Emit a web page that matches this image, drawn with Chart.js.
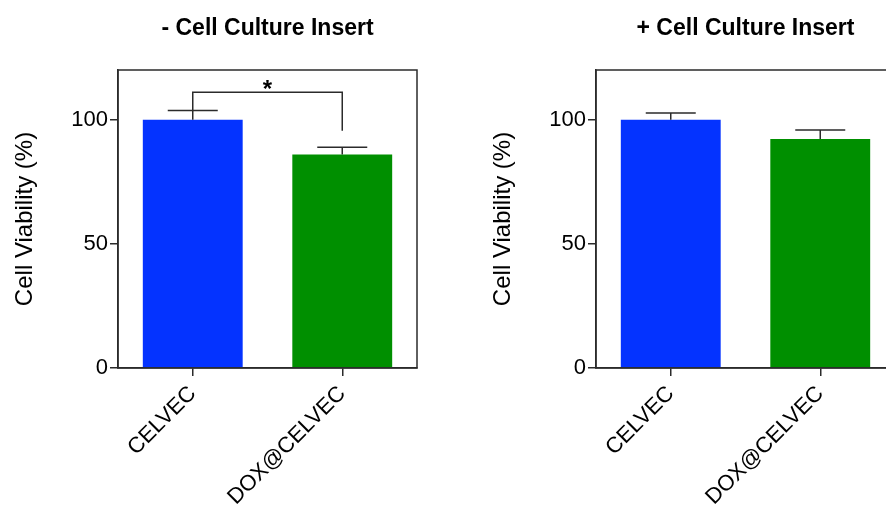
<!DOCTYPE html>
<html>
<head>
<meta charset="utf-8">
<script src="https://cdn.jsdelivr.net/npm/chart.js@4"></script>
<style>
    body { margin: 0; background: #fff; }
    #wrap { position: relative; width: 886px; height: 506px; overflow: hidden; }
    #wrap canvas { position: absolute; top: 0; }
</style>
</head>
<body>
<div id="wrap">
    <canvas id="leftChart" width="450" height="506" style="left:0"></canvas>
    <canvas id="rightChart" width="450" height="506" style="left:478px"></canvas>
</div>
<script>
// ================ data ================
const categories = ['CELVEC', 'DOX@CELVEC'];
const barColors = ['#0433FF', '#008F00'];
const yTicks = [0, 50, 100];

// - cell culture insert
const noInsertMeans = [100, 86.0];
const noInsertErr = [3.7, 2.9];

// + cell culture insert
const withInsertMeans = [100, 92.2];
const withInsertErr = [2.7, 3.6];

// significance bracket (left panel only): level, drop ends, label
const bracketLevel = 111;
const bracketEnds = [103.7, 95.5];
const bracketLabel = '*';

const FONT = 'Liberation Sans, Arial, Helvetica, sans-serif';
const INK = '#2b2b2b';

// ================ plugins ================
const errorBars = {
    id: 'errorBars',
    afterDatasetsDraw(chart, args, opts) {
        const ctx = chart.ctx;
        const y = chart.scales.y;
        const meta = chart.getDatasetMeta(0);
        const errs = opts.errors || [];
        ctx.save();
        ctx.strokeStyle = INK;
        ctx.lineWidth = 1.5;
        meta.data.forEach((bar, i) => {
            const top = y.getPixelForValue(chart.data.datasets[0].data[i] + errs[i]);
            ctx.beginPath();
            ctx.moveTo(bar.x, bar.y);
            ctx.lineTo(bar.x, top);
            ctx.moveTo(bar.x - 25, top);
            ctx.lineTo(bar.x + 25, top);
            ctx.stroke();
        });

        // significance bracket
        if (opts.bracket) {
            const b = opts.bracket;
            const x0 = meta.data[0].x, x1 = meta.data[1].x;
            const yl = y.getPixelForValue(b.level);
            ctx.beginPath();
            ctx.moveTo(x0, y.getPixelForValue(b.ends[0]));
            ctx.lineTo(x0, yl);
            ctx.lineTo(x1, yl);
            ctx.lineTo(x1, y.getPixelForValue(b.ends[1]));
            ctx.stroke();
            ctx.fillStyle = '#000';
            ctx.font = 'bold 24px ' + FONT;
            ctx.textAlign = 'center';
            ctx.textBaseline = 'alphabetic';
            ctx.fillText(b.label, (x0 + x1) / 2, yl + 5);
        }
        ctx.restore();
    }
};

const frameBox = {
    id: 'frameBox',
    afterDraw(chart) {
        const {ctx, chartArea: a} = chart;
        ctx.save();
        ctx.strokeStyle = INK;
        ctx.lineWidth = 1.5;
        ctx.strokeRect(a.left, a.top, a.right - a.left, a.bottom - a.top);
        ctx.restore();
    }
};

function makeChart(id, title, means, errs, bracket) {
    const ctx = document.getElementById(id).getContext('2d');
    return new Chart(ctx, {
        type: 'bar',
        data: {
            labels: categories,
            datasets: [{
                data: means,
                backgroundColor: barColors,
                borderWidth: 0,
                categoryPercentage: 1,
                barPercentage: 0.668
            }]
        },
        plugins: [errorBars, frameBox],
        options: {
            responsive: false,
            animation: false,
            layout: { padding: { left: 0, right: 33, top: 0, bottom: 0 } },
            plugins: {
                legend: { display: false },
                tooltip: { enabled: false },
                title: {
                    display: true,
                    text: title,
                    fullSize: false,
                    color: '#000',
                    font: { size: 23, weight: 'bold', family: FONT, lineHeight: 1 },
                    padding: { top: 17, bottom: 30 }
                },
                errorBars: { errors: errs, bracket: bracket }
            },
            scales: {
                x: {
                    afterFit: s => { s.height = 138; },
                    grid: {
                        offset: false,
                        drawOnChartArea: false,
                        drawTicks: true,
                        tickLength: 8,
                        color: INK,
                        lineWidth: 1.5
                    },
                    border: { display: true, color: INK, width: 1.5 },
                    ticks: {
                        color: '#000',
                        font: { size: 22, family: FONT },
                        minRotation: 45,
                        maxRotation: 45,
                        padding: 5
                    }
                },
                y: {
                    min: 0,
                    max: 120,
                    afterFit: s => { s.width = 118; },
                    afterBuildTicks: s => { s.ticks = yTicks.map(v => ({ value: v })); },
                    grid: {
                        drawOnChartArea: false,
                        drawTicks: true,
                        tickLength: 8,
                        color: INK,
                        lineWidth: 1.5
                    },
                    border: { display: true, color: INK, width: 1.5 },
                    ticks: {
                        color: '#000',
                        font: { size: 22, family: FONT },
                        padding: 2
                    },
                    title: {
                        display: true,
                        text: 'Cell Viability (%)',
                        color: '#000',
                        font: { size: 24, family: FONT, lineHeight: 1 },
                        padding: { top: 13, bottom: 0 }
                    }
                }
            }
        }
    });
}

makeChart('leftChart', '- Cell Culture Insert', noInsertMeans, noInsertErr,
    { level: bracketLevel, ends: bracketEnds, label: bracketLabel });
makeChart('rightChart', '+ Cell Culture Insert', withInsertMeans, withInsertErr, null);
</script>
</body>
</html>
